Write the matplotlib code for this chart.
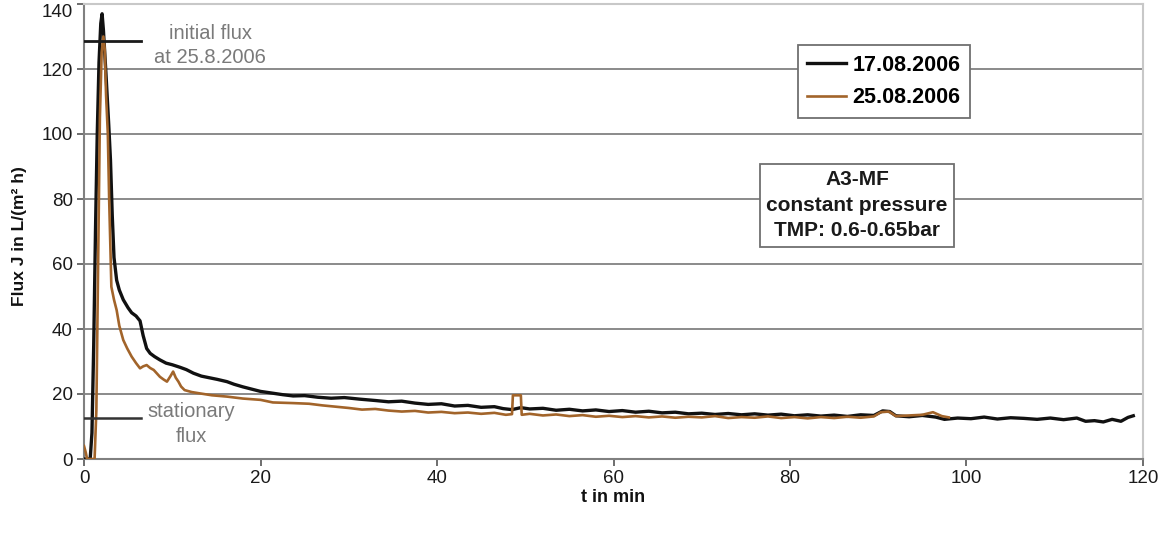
import matplotlib
matplotlib.use("Agg")
import matplotlib.pyplot as plt

# ------------------------------------------------------------
# Data
# ------------------------------------------------------------
labels = ["17.08.2006", "25.08.2006"]

t_black = [0, 0.7, 0.9, 1.1, 1.3, 1.5, 1.7, 1.9, 2.05, 2.2,
           2.5, 2.8, 3.0, 3.2, 3.4, 3.7, 4.0, 4.45, 5.0, 5.4,
           5.9, 6.35, 6.7, 7.1, 7.5, 8.0, 8.6, 9.3, 10.0, 10.9,
           11.6, 12.4, 13.3, 14.2, 15.1, 16.2, 17.0, 18.0, 19.0, 20.0,
           21.5, 22.5, 23.7, 25, 26.5, 28, 29.5, 31.3, 33, 34.5,
           36, 37.5, 39, 40.5, 42, 43.5, 45, 46.5, 47.5, 48.5,
           49.5, 50.5, 52, 53.5, 55, 56.5, 58, 59.5, 61, 62.5,
           64, 65.5, 67, 68.5, 70, 71.5, 73, 74.5, 76, 77.5,
           79, 80.5, 82, 83.5, 85, 86.5, 88, 89.5, 90.5, 91.3,
           92, 93.5, 95, 96.5, 97.5, 99, 100.5, 102, 103.5, 105,
           106.5, 108, 109.5, 111, 112.5, 113.5, 114.5, 115.5, 116.5, 117.5,
           118.3, 118.9]
flux_black = [0, 0, 8, 35, 70, 100, 122, 134, 137, 132,
              118, 103, 92, 75, 62, 55, 52, 49, 46.5, 45,
              44, 42.5, 38, 34, 32.5, 31.5, 30.5, 29.5, 29, 28.2,
              27.5, 26.4, 25.5, 25, 24.5, 23.8, 23, 22.2, 21.5, 20.8,
              20.2, 19.8, 19.4, 19.5, 19.0, 18.7, 18.9, 18.4, 18.0, 17.6,
              17.8, 17.2, 16.8, 17.0, 16.3, 16.5, 15.9, 16.1, 15.5, 15.2,
              15.8, 15.4, 15.6, 15.0, 15.3, 14.8, 15.1, 14.6, 14.9, 14.4,
              14.7, 14.2, 14.4, 13.9, 14.1, 13.7, 14.0, 13.6, 13.9, 13.5,
              13.8, 13.3, 13.6, 13.2, 13.5, 13.1, 13.6, 13.4, 14.8, 14.6,
              13.3, 13.0, 13.4, 12.9, 12.2, 12.6, 12.4, 12.9, 12.3, 12.7,
              12.5, 12.2, 12.6, 12.1, 12.6, 11.6, 11.8, 11.4, 12.2, 11.6,
              12.8, 13.3]

t_brown = [0, 0.2, 0.35, 1.2, 1.4, 1.6, 1.8, 2.0, 2.2, 2.35,
           2.5, 2.7, 2.85, 3.0, 3.1, 3.4, 3.7, 4.0, 4.45, 4.9,
           5.4, 5.9, 6.35, 6.7, 7.1, 7.5, 7.9, 8.6, 9.0, 9.4,
           9.8, 10.1, 10.4, 10.7, 11.0, 11.4, 12.2, 13.1, 14.5, 16.2,
           18, 20, 21.4, 23.7, 25.5, 27, 28.5, 30, 31.5, 33,
           34.5, 36, 37.5, 39, 40.5, 42, 43.5, 45, 46.5, 47.8,
           48.5, 48.6, 49.5, 49.6, 50.5, 52, 53.5, 55, 56.5, 58,
           59.5, 61, 62.5, 64, 65.5, 67, 68.5, 70, 71.5, 73,
           74.5, 76, 77.5, 79, 80.5, 82, 83.5, 85, 86.5, 88,
           89.5, 90.3, 91.2, 92, 93.5, 95, 96.2, 97.2, 98]
flux_brown = [4, 2, 0, 0, 15, 60, 105, 125, 130, 126,
              112, 100, 80, 64, 53, 49, 45.8, 41, 36.6, 34,
              31.5, 29.5, 27.9, 28.5, 28.9, 28, 27.4, 25.3, 24.5, 23.8,
              25.5, 26.9, 25, 23.8, 22.3, 21.2, 20.6, 20.2, 19.6, 19.2,
              18.6, 18.2, 17.4, 17.2, 17.0, 16.5, 16.1, 15.7, 15.2, 15.4,
              14.9, 14.6, 14.8, 14.3, 14.5, 14.1, 14.3, 13.9, 14.2, 13.6,
              13.8, 19.6, 19.6, 13.6, 13.9, 13.4, 13.7, 13.2, 13.5, 13.0,
              13.3, 12.9, 13.2, 12.8, 13.1, 12.7, 13.0, 12.8, 13.2, 12.6,
              12.9, 12.7, 13.1, 12.6, 12.9, 12.5, 12.9, 12.6, 13.0, 12.7,
              13.1, 14.4, 14.6, 13.2, 13.4, 13.6, 14.4, 13.2, 12.8]

initial_flux = 128.5
stationary_flux = 12.6
marker_end = 6.5

x_ticks = [0, 20, 40, 60, 80, 100, 120]
y_ticks = [0, 20, 40, 60, 80, 100, 120, 140]

# ------------------------------------------------------------
plt.rcParams['font.family'] = ['Liberation Sans', 'DejaVu Sans']

fig = plt.figure(figsize=(11.6, 5.33), dpi=100)
ax = fig.add_axes([84 / 1160, 1 - 459 / 533, 1059 / 1160, 455 / 533])

for y in y_ticks[1:]:
    ax.axhline(y, color='#8a8a8a', lw=1.4, zorder=1)

ax.plot(t_black, flux_black, color='#111111', lw=2.4, label=labels[0], zorder=3)
ax.plot(t_brown, flux_brown, color='#a2642a', lw=1.9, label=labels[1], zorder=4)

# annotation lines
ax.plot([0, marker_end], [initial_flux, initial_flux], color='#1a1a1a', lw=2.0, zorder=5)
ax.plot([0, marker_end], [stationary_flux, stationary_flux], color='#333333', lw=1.8, zorder=5)
note = dict(ha='center', va='center', fontsize=14.5, color='#7a7a7a')
ax.text(14.3, 131, 'initial flux', **note)
ax.text(14.3, 123.5, 'at 25.8.2006', **note)
ax.text(12.2, 14.6, 'stationary', **note)
ax.text(12.2, 6.9, 'flux', **note)

ax.text(0.730, 0.558, 'A3-MF\nconstant pressure\nTMP: 0.6-0.65bar', transform=ax.transAxes,
        ha='center', va='center', fontsize=15, fontweight='bold', color='#1a1a1a',
        linespacing=1.45, zorder=6,
        bbox=dict(boxstyle='square,pad=0.3', facecolor='white', edgecolor='#707070', lw=1.3))

leg = ax.legend(loc='upper left', bbox_to_anchor=(0.674, 0.910), borderaxespad=0,
                frameon=True, fancybox=False, edgecolor='#707070', framealpha=1,
                prop={'size': 15.5, 'weight': 'bold'}, handlelength=1.8, handletextpad=0.3,
                labelspacing=0.55, borderpad=0.45)
leg.get_frame().set_linewidth(1.3)
leg.set_zorder(6)

ax.set_xlim(0, 120)
ax.set_ylim(0, 140)
ax.set_xticks(x_ticks)
ax.set_yticks(y_ticks)
ax.tick_params(axis='both', direction='out', length=5, width=1.2, color='#555555',
               labelsize=13.5, labelcolor='#1a1a1a', pad=3)
# the top label sits just below its tick, as in the original
ax.get_yticklabels()[-1].set_verticalalignment('top')

for side in ['left', 'bottom']:
    ax.spines[side].set_color('#808080')
    ax.spines[side].set_linewidth(1.5)
for side in ['top', 'right']:
    ax.spines[side].set_color('#c8c8c8')
    ax.spines[side].set_linewidth(1.5)

fig.text(20 / 1160, 1 - 236 / 533, 'Flux J in L/(m² h)', rotation=90, ha='center', va='center',
         fontsize=12.5, fontweight='bold', color='#111111')
fig.text((84 + 1059 / 2) / 1160, 1 - 497 / 533, 't in min', ha='center', va='center',
         fontsize=13, fontweight='bold', color='#111111')

fig.savefig('out.png', dpi=100, facecolor='white')
